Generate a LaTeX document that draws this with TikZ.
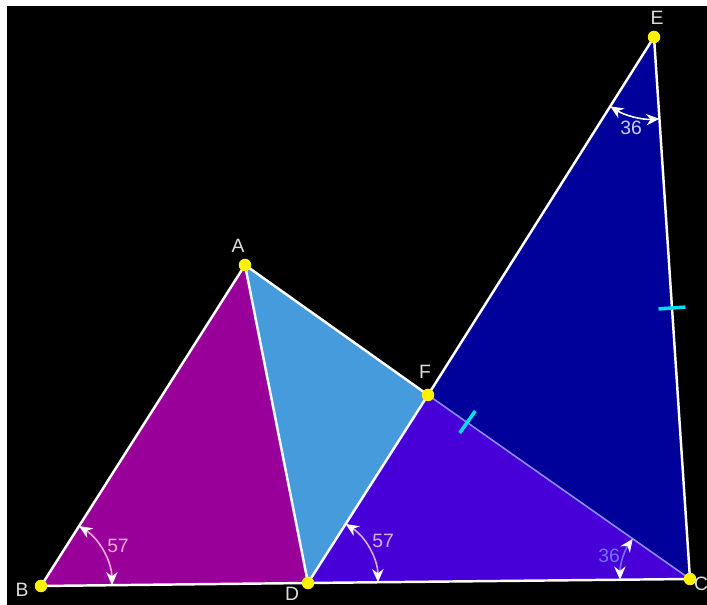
\documentclass[tikz,border=0pt]{standalone}
\usepackage{fontspec}
\setsansfont{Liberation Sans}
\usetikzlibrary{arrows.meta,angles,calc}
\definecolor{magentafill}{HTML}{990099}
\definecolor{skyfill}{HTML}{459BDB}
\definecolor{violetfill}{HTML}{4800D8}
\definecolor{navyfill}{HTML}{00009B}
\definecolor{tickcyan}{HTML}{00E0F0}
\definecolor{labelgray}{HTML}{DDDDDD}

\begin{document}
\begin{tikzpicture}[
  edge/.style={white, line width=1.4pt},
  vertex/.style={circle, fill=yellow, inner sep=0pt, minimum size=0.25cm},
  ptlabel/.style={font=\sffamily\fontsize{11}{13}\selectfont, text=labelgray},
  anglemark/.style={line width=0.9pt, angle radius=#1,
                    {Stealth[length=7.5pt,width=6.5pt,color=white]}-{Stealth[length=7.5pt,width=6.5pt,color=white]}},
  tickmark/.style={tickcyan, line width=2pt},
]
  \useasboundingbox (0,0) rectangle (14.14,12.1);
  \fill[white] (0,0) rectangle (14.14,12.1);
  \fill[black] (0.14,0) rectangle (14.14,11.98);

  \coordinate (B) at (0.82,0.38);
  \coordinate (D) at (6.16,0.44);
  \coordinate (C) at (13.80,0.52);
  \coordinate (A) at (4.90,6.80);
  \coordinate (F) at (8.56,4.20);
  \coordinate (E) at (13.08,11.36);

  \fill[magentafill] (A) -- (B) -- (D) -- cycle;
  \fill[skyfill] (A) -- (D) -- (F) -- cycle;
  \fill[violetfill] (D) -- (C) -- (F) -- cycle;
  \fill[navyfill] (F) -- (C) -- (E) -- cycle;

  \draw[edge] (A) -- (B) -- (D) -- (C) -- (E) -- (F) -- (A) -- (D) -- (F);
  \draw[blue!45!white, line width=0.9pt] (F) -- (C);

  \pic[draw=magenta!35!white, anglemark=1.42cm] {angle=D--B--A};
  \pic[draw=violet!30!white, anglemark=1.40cm] {angle=C--D--F};
  \pic[draw=blue!55!white, anglemark=1.40cm] {angle=F--C--D};
  \pic[draw=white, anglemark=1.64cm] {angle=F--E--C};

  \coordinate (mAC) at ($(A)!0.5!(C)$);
  \coordinate (mEC) at ($(E)!0.5!(C)$);
  \draw[tickmark] ($(mAC)!0.27cm!90:(C)$) -- ($(mAC)!0.27cm!-90:(C)$);
  \draw[tickmark] ($(mEC)!0.27cm!90:(C)$) -- ($(mEC)!0.27cm!-90:(C)$);

  \node[vertex] (a) at (A) {};
  \node[vertex] (b) at (B) {};
  \node[vertex] (c) at (C) {};
  \node[vertex] (d) at (D) {};
  \node[vertex] (e) at (E) {};
  \node[vertex] (f) at (F) {};

  \node[ptlabel] (labA) at (4.76,7.18) {A};
  \node[ptlabel] (labB) at (0.44,0.30) {B};
  \node[ptlabel] (labC) at (14.02,0.42) {C};
  \node[ptlabel] (labD) at (5.84,0.22) {D};
  \node[ptlabel] (labE) at (13.14,11.74) {E};
  \node[ptlabel] (labF) at (8.50,4.66) {F};

  \node[ptlabel, text=magenta!35!white] (angB) at (2.36,1.18) {57};
  \node[ptlabel, text=violet!30!white] (angD) at (7.66,1.28) {57};
  \node[ptlabel, text=blue!55!white] (angC) at (12.18,0.98) {36};
  \node[ptlabel, text=blue!20!white] (angE) at (12.62,9.54) {36};
\end{tikzpicture}
\end{document}
